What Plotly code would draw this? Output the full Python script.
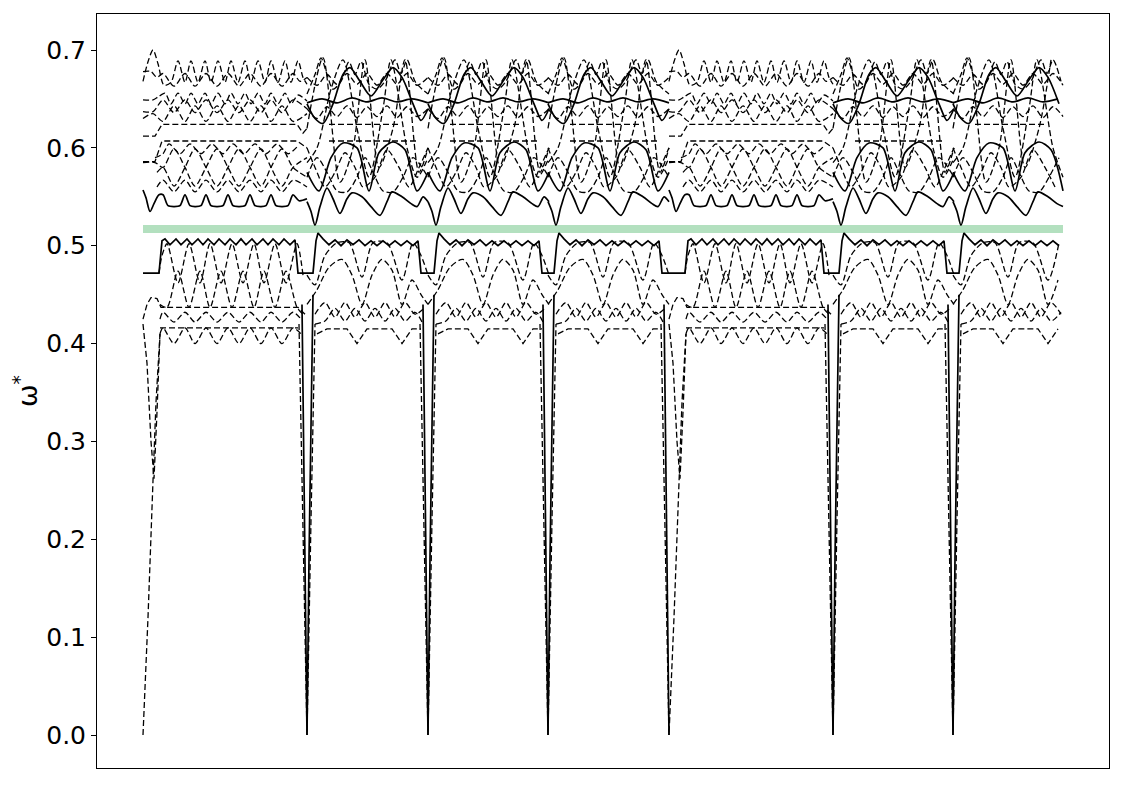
import plotly.graph_objects as go

# x runs along the path (no labels on the reference), y is omega*
# the picture repeats: a long segment "a" then three shorter "b" segments
seg_starts = [0, 164, 285, 405, 526, 690, 810]
seg_kinds = ["a", "b", "b", "b", "a", "b", "b"]
x_end = 920

band_x = [0, 920]
band_y = [0.517, 0.517]

y_ticks = [0.0, 0.1, 0.2, 0.3, 0.4, 0.5, 0.6, 0.7]
y_ticktext = ["0.0", "0.1", "0.2", "0.3", "0.4", "0.5", "0.6", "0.7"]

# ---- upper group, long segment ----
a_top = [(0, 0.668), (5, 0.688), (10, 0.700), (15, 0.686), (21, 0.664), (28, 0.667), (35, 0.689),
         (42, 0.667), (48, 0.689), (55, 0.667), (62, 0.689), (68, 0.667), (75, 0.689), (82, 0.667),
         (88, 0.689), (95, 0.667), (102, 0.689), (108, 0.667), (115, 0.689), (122, 0.667), (128, 0.689),
         (135, 0.667), (142, 0.689), (148, 0.667), (155, 0.689), (160, 0.672), (164, 0.665)]
a_scallop = [(0, 0.678), (8, 0.678), (14, 0.672), (20, 0.676), (31, 0.663), (42, 0.676), (52, 0.663),
             (63, 0.676), (74, 0.663), (85, 0.676), (96, 0.663), (107, 0.676), (118, 0.663), (128, 0.676),
             (139, 0.663), (150, 0.676), (157, 0.668), (164, 0.672)]
a_w1 = [(0, 0.649), (10, 0.649), (15, 0.652), (22, 0.656), (28, 0.645), (35, 0.656), (42, 0.645),
        (48, 0.656), (55, 0.645), (62, 0.656), (68, 0.645), (75, 0.656), (82, 0.645), (88, 0.656),
        (95, 0.645), (102, 0.656), (108, 0.645), (115, 0.656), (122, 0.645), (128, 0.656), (135, 0.645),
        (142, 0.656), (148, 0.645), (155, 0.654), (164, 0.648)]
a_w2 = [(0, 0.637), (10, 0.637), (20, 0.649), (31, 0.636), (42, 0.649), (52, 0.636), (63, 0.649),
        (74, 0.636), (85, 0.649), (96, 0.636), (107, 0.649), (118, 0.636), (128, 0.649), (139, 0.636),
        (150, 0.649), (164, 0.640)]
a_w3 = [(0, 0.630), (10, 0.635), (20, 0.627), (31, 0.643), (42, 0.627), (52, 0.643), (63, 0.627),
        (74, 0.643), (85, 0.627), (96, 0.643), (107, 0.627), (118, 0.643), (128, 0.627), (139, 0.643),
        (150, 0.627), (164, 0.635)]
a_flat1 = [(0, 0.612), (12, 0.612), (19, 0.624), (154, 0.624), (160, 0.615), (164, 0.620)]
a_flat2 = [(0, 0.586), (12, 0.586), (19, 0.607), (154, 0.607), (164, 0.600)]
a_w4 = [(12, 0.590), (20, 0.594), (26, 0.604), (37, 0.594), (47, 0.604), (58, 0.594), (69, 0.604),
        (80, 0.594), (90, 0.604), (101, 0.594), (112, 0.604), (123, 0.594), (134, 0.604), (145, 0.594),
        (155, 0.602)]
a_lens1 = [(0, 0.585), (12, 0.585), (20, 0.580), (31, 0.599), (42, 0.580), (52, 0.561), (63, 0.580),
           (74, 0.599), (85, 0.580), (96, 0.561), (107, 0.580), (118, 0.599), (128, 0.580), (139, 0.561),
           (150, 0.580), (164, 0.590)]
a_lens2 = [(14, 0.575), (20, 0.580), (31, 0.561), (42, 0.580), (52, 0.599), (63, 0.580), (74, 0.561),
           (85, 0.580), (96, 0.599), (107, 0.580), (118, 0.561), (128, 0.580), (139, 0.599), (150, 0.580),
           (164, 0.570)]
a_w5 = [(14, 0.560), (20, 0.567), (31, 0.555), (42, 0.567), (52, 0.555), (63, 0.567), (74, 0.555),
        (85, 0.567), (96, 0.555), (107, 0.567), (118, 0.555), (128, 0.567), (139, 0.555), (150, 0.567),
        (164, 0.560)]
a_bottom = [(0, 0.557), (3, 0.549), (7, 0.535), (11, 0.543), (16, 0.552), (20, 0.552), (25, 0.541),
            (31, 0.540), (37, 0.541), (42, 0.552), (47, 0.541), (52, 0.540), (58, 0.541), (63, 0.552),
            (68, 0.541), (74, 0.540), (80, 0.541), (85, 0.552), (90, 0.541), (96, 0.540), (102, 0.541),
            (107, 0.552), (112, 0.541), (118, 0.540), (123, 0.541), (128, 0.552), (133, 0.541),
            (139, 0.540), (145, 0.541), (150, 0.552), (156, 0.546), (164, 0.548)]

# ---- lower group, long segment ----
a_low = [(0, 0.472), (16, 0.472), (19, 0.505), (22, 0.507), (27, 0.501), (33, 0.507), (38, 0.501),
         (44, 0.507), (49, 0.501), (55, 0.507), (60, 0.501), (65, 0.507), (71, 0.501), (76, 0.507),
         (82, 0.501), (87, 0.507), (93, 0.501), (98, 0.507), (103, 0.501), (109, 0.507), (114, 0.501),
         (120, 0.507), (125, 0.501), (130, 0.507), (136, 0.501), (141, 0.507), (147, 0.501),
         (152, 0.506), (155, 0.472), (164, 0.472)]
a_z1 = [(16, 0.472), (19, 0.490), (24, 0.502), (35, 0.462), (46, 0.502), (57, 0.462), (67, 0.502),
        (78, 0.462), (89, 0.502), (100, 0.462), (111, 0.502), (121, 0.462), (132, 0.502), (143, 0.462),
        (154, 0.502), (160, 0.470)]
a_z2 = [(17, 0.440), (24, 0.437), (35, 0.474), (46, 0.437), (57, 0.474), (67, 0.437), (78, 0.474),
        (89, 0.437), (100, 0.474), (111, 0.437), (121, 0.474), (132, 0.437), (143, 0.474), (154, 0.437),
        (160, 0.430)]
a_d1 = [(0, 0.425), (4, 0.440), (8, 0.447), (14, 0.446), (18, 0.437), (155, 0.437), (162, 0.430)]
a_d2 = [(17, 0.425), (20, 0.432), (31, 0.422), (42, 0.432), (52, 0.422), (63, 0.432), (74, 0.422),
        (85, 0.432), (96, 0.422), (107, 0.432), (118, 0.422), (128, 0.432), (139, 0.422), (150, 0.432),
        (158, 0.425)]
a_d3 = [(17, 0.416), (155, 0.416)]
a_d4 = [(17, 0.410), (20, 0.416), (31, 0.400), (42, 0.416), (52, 0.400), (63, 0.416), (74, 0.400),
        (85, 0.416), (96, 0.400), (107, 0.416), (118, 0.400), (128, 0.416), (139, 0.400), (150, 0.416),
        (158, 0.410)]
a_vdash = [(-8, 0.42), (-4, 0.22), (0, 0.0), (5, 0.12), (10, 0.26), (13, 0.34), (17, 0.41)]
a_vsolid = [(-5, 0.44), (-2, 0.18), (0, 0.0)]
a_dip = [(0, 0.42), (4, 0.38), (8, 0.30), (11, 0.262), (14, 0.33), (17, 0.41)]

# ---- upper group, short segments ----
b_top = [(0, 0.655), (8, 0.675), (14, 0.692), (20, 0.675), (26, 0.660), (34, 0.668), (42, 0.688),
         (48, 0.675), (54, 0.688), (62, 0.665), (70, 0.660), (78, 0.668), (88, 0.690), (94, 0.676),
         (100, 0.690), (108, 0.668), (115, 0.660), (121, 0.655)]
b_scallop = [(0, 0.672), (10, 0.664), (20, 0.675), (30, 0.665), (40, 0.676), (50, 0.665), (60, 0.676),
             (70, 0.664), (80, 0.676), (90, 0.665), (100, 0.676), (110, 0.664), (121, 0.672)]
b_w64 = [(0, 0.640), (10, 0.630), (20, 0.642), (30, 0.632), (40, 0.643), (50, 0.631), (60, 0.642),
         (70, 0.632), (80, 0.643), (90, 0.631), (100, 0.642), (110, 0.632), (121, 0.640)]
b_flat1 = [(22, 0.624), (92, 0.624)]
b_flat2 = [(22, 0.607), (112, 0.607)]
b_big1 = [(0, 0.620), (16, 0.692), (33, 0.565), (46, 0.600), (58, 0.690), (72, 0.580), (86, 0.620),
          (98, 0.690), (112, 0.575), (121, 0.600)]
b_big2 = [(0, 0.585), (10, 0.600), (24, 0.660), (36, 0.690), (50, 0.620), (62, 0.570), (76, 0.640),
          (84, 0.690), (100, 0.600), (110, 0.570), (121, 0.590)]
b_bowl1 = [(0, 0.570), (10, 0.590), (20, 0.575), (30, 0.556), (40, 0.555), (50, 0.570), (58, 0.590),
           (66, 0.575), (76, 0.556), (86, 0.555), (96, 0.570), (106, 0.590), (121, 0.570)]
b_bowl2 = [(0, 0.600), (8, 0.580), (18, 0.560), (28, 0.575), (38, 0.595), (48, 0.580), (56, 0.560),
           (68, 0.570), (80, 0.598), (92, 0.580), (102, 0.560), (112, 0.580), (121, 0.600)]
b_hump = [(0, 0.645), (8, 0.630), (16, 0.625), (26, 0.645), (36, 0.675), (43, 0.682), (53, 0.668),
          (64, 0.653), (75, 0.668), (86, 0.682), (95, 0.672), (106, 0.645), (114, 0.628), (121, 0.640)]
b_s648 = [(0, 0.646), (15, 0.650), (30, 0.646), (45, 0.651), (60, 0.647), (75, 0.651), (90, 0.647),
          (105, 0.650), (121, 0.646)]
b_mid = [(0, 0.575), (12, 0.556), (24, 0.590), (36, 0.605), (50, 0.600), (62, 0.556), (72, 0.595),
         (86, 0.606), (98, 0.598), (110, 0.556), (121, 0.575)]
b_bottom = [(0, 0.545), (4, 0.535), (8, 0.521), (13, 0.540), (20, 0.559), (26, 0.548), (33, 0.533),
            (40, 0.548), (45, 0.554), (55, 0.550), (64, 0.540), (73, 0.531), (80, 0.545), (85, 0.555),
            (95, 0.550), (104, 0.543), (110, 0.540), (116, 0.550), (121, 0.545)]

# ---- lower group, short segments ----
b_low = [(0, 0.472), (6, 0.472), (9, 0.505), (11, 0.513), (16, 0.507), (22, 0.501), (28, 0.506),
         (34, 0.500), (40, 0.506), (46, 0.501), (52, 0.506), (58, 0.500), (64, 0.505), (70, 0.500),
         (76, 0.505), (82, 0.500), (88, 0.505), (94, 0.500), (100, 0.505), (106, 0.500), (111, 0.505),
         (114, 0.472), (121, 0.472)]
b_lb1 = [(0, 0.470), (8, 0.460), (18, 0.490), (30, 0.503), (42, 0.503), (55, 0.468), (66, 0.503),
         (80, 0.503), (95, 0.465), (106, 0.503), (114, 0.490), (121, 0.470)]
b_lb2 = [(0, 0.440), (10, 0.455), (22, 0.478), (35, 0.486), (45, 0.470), (55, 0.440), (65, 0.470),
         (75, 0.486), (85, 0.475), (95, 0.440), (105, 0.465), (114, 0.450), (121, 0.440)]
b_lb3 = [(8, 0.430), (18, 0.442), (28, 0.427), (38, 0.442), (48, 0.427), (58, 0.442), (68, 0.427),
         (78, 0.442), (88, 0.427), (98, 0.442), (108, 0.430), (116, 0.435)]
b_lb4 = [(8, 0.420), (18, 0.423), (28, 0.436), (38, 0.423), (48, 0.436), (58, 0.423), (68, 0.436),
         (78, 0.423), (88, 0.436), (98, 0.423), (108, 0.432), (116, 0.420)]
b_lb5 = [(10, 0.410), (20, 0.415), (40, 0.415), (50, 0.400), (60, 0.415), (85, 0.415), (95, 0.400),
         (105, 0.415), (114, 0.415)]
b_vdash = [(-8, 0.42), (-4, 0.22), (0, 0.0), (4, 0.22), (8, 0.42)]
b_vsolid = [(-5, 0.44), (-2, 0.18), (0, 0.0), (2, 0.18), (6, 0.45)]


def build(pat_a, pat_b):
    xs, ys = [], []
    for start, kind in zip(seg_starts, seg_kinds):
        pat = pat_a if kind == "a" else pat_b
        if not pat:
            continue
        for lx, ly in pat:
            if 0 <= start + lx <= x_end:
                xs.append(start + lx)
                ys.append(ly)
        xs.append(None)
        ys.append(None)
    return xs, ys


# (long-segment pattern, short-segment pattern, solid?, smooth?)
curves = [
    (a_top, b_top, False, True),
    (a_scallop, b_scallop, False, True),
    (a_w1, b_w64, False, True),
    (a_w2, None, False, True),
    (a_w3, None, False, True),
    (a_flat1, b_flat1, False, False),
    (a_flat2, b_flat2, False, False),
    (a_w4, None, False, True),
    (a_lens1, b_big1, False, True),
    (a_lens2, b_big2, False, True),
    (a_w5, b_bowl1, False, True),
    (None, b_bowl2, False, True),
    (a_bottom, b_bottom, True, True),
    (None, b_hump, True, True),
    (None, b_s648, True, True),
    (None, b_mid, True, True),
    (a_low, b_low, True, False),
    (a_z1, b_lb1, False, True),
    (a_z2, b_lb2, False, True),
    (a_d1, None, False, False),
    (a_d2, b_lb3, False, True),
    (a_d3, None, False, False),
    (a_d4, b_lb4, False, True),
    (None, b_lb5, False, False),
    (a_vdash, b_vdash, False, False),
    (a_vsolid, b_vsolid, True, False),
    (a_dip, None, False, False),
]

fig = go.Figure()

fig.add_trace(go.Scatter(x=band_x, y=band_y, mode="lines",
                         line=dict(color="#b3e0bf", width=8), hoverinfo="skip"))

for pat_a, pat_b, solid, smooth in curves:
    xs, ys = build(pat_a, pat_b)
    fig.add_trace(go.Scatter(
        x=xs, y=ys, mode="lines", connectgaps=False,
        line=dict(color="black", width=1.7 if solid else 1.3,
                  dash="solid" if solid else "6px,3px",
                  shape="spline" if smooth else "linear", smoothing=0.8),
        hoverinfo="skip"))

# the page body adds an 8px offset, so the figure is sized to sit inside the window
fig.update_layout(
    width=1117, height=777,
    margin=dict(l=89, r=16, t=6, b=17),
    paper_bgcolor="white", plot_bgcolor="white",
    showlegend=False,
    font=dict(family="DejaVu Sans", color="black"),
)
fig.update_xaxes(range=[-46, 966], showticklabels=False, ticks="", showgrid=False, zeroline=False,
                 showline=True, mirror=True, linecolor="black", linewidth=1)
fig.update_yaxes(range=[-0.0337, 0.7368], tickvals=y_ticks, ticktext=y_ticktext,
                 ticks="outside", ticklen=5, tickcolor="black", tickfont=dict(size=25),
                 showgrid=False, zeroline=False, showline=True, mirror=True,
                 linecolor="black", linewidth=1,
                 title=dict(text="ω<sup>*</sup>", font=dict(size=27), standoff=6))

fig.write_html("out.html")
